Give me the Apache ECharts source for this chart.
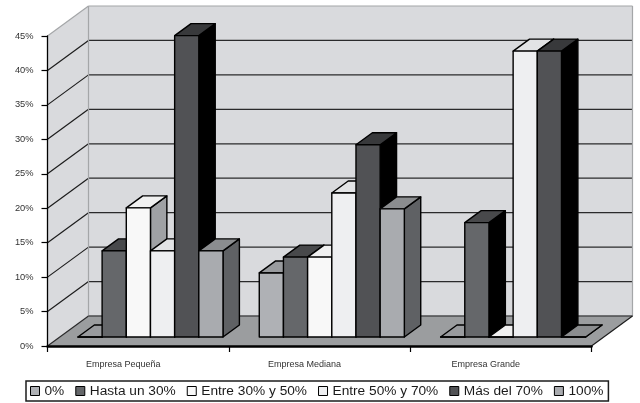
<!DOCTYPE html>
<html>
<head>
<meta charset="utf-8">
<style>html,body{margin:0;padding:0;background:#fff}#chart{width:640px;height:403px}</style>
<script src="https://cdn.jsdelivr.net/npm/echarts@6/dist/echarts.min.js"></script>
</head>
<body>
<div id="chart"></div>
<script>
// Survey shares by company size and band, drawn as a faux-3D clustered column chart.
const categories = ['Empresa Pequeña', 'Empresa Mediana', 'Empresa Grande'];
const seriesNames = ['0%', 'Hasta un 30%', 'Entre 30% y 50%', 'Entre 50% y 70%', 'Más del 70%', '100%'];
const band0 = [0, 9.3, 0];
const bandHasta30 = [12.5, 11.6, 16.6];
const band30to50 = [18.75, 11.6, 0];
const band50to70 = [12.5, 20.9, 41.5];
const bandOver70 = [43.75, 27.9, 41.5];
const band100 = [12.5, 18.6, 0];
const yTicks = [0, 5, 10, 15, 20, 25, 30, 35, 40, 45];

const bands = [band0, bandHasta30, band30to50, band50to70, bandOver70, band100];
const frontColors = ['#afb1b5', '#65676a', '#f8f8f8', '#eeeff1', '#515255', '#a9abaf'];
const topColors = ['#999b9e', '#48494b', '#f0f0f0', '#e2e3e5', '#38393b', '#8b8d8f'];
const sideColors = ['#6b6d70', '#000000', '#9fa1a4', '#9fa1a4', '#000000', '#5f6164'];

// Projection of the box: how far the back plane sits from the front plane.
const DEPTH_X = 41, DEPTH_Y = -30;
const BAR_DEPTH_START = 0.30, BAR_DEPTH_END = 0.70;
const GAP_RATIO = 0.75;

function poly(points, fill, stroke, lineWidth) {
  return {
    type: 'polygon',
    shape: { points: points },
    style: { fill: fill, stroke: stroke || null, lineWidth: lineWidth || 0, lineJoin: 'round' }
  };
}
function line(x1, y1, x2, y2, stroke, lineWidth) {
  return {
    type: 'line',
    shape: { x1: x1, y1: y1, x2: x2, y2: y2 },
    style: { stroke: stroke, lineWidth: lineWidth }
  };
}

// Walls, floor and both sets of gridlines, derived from the grid's own scale.
function renderBox(params, api) {
  const cs = params.coordSys;
  const l = cs.x, r = cs.x + cs.width;
  const y0 = api.coord([0, 0])[1];
  const yMax = api.coord([0, yTicks[yTicks.length - 1]])[1];
  const edge = '#a4a6a8';
  const children = [
    poly([[l, y0], [l + DEPTH_X, y0 + DEPTH_Y], [l + DEPTH_X, yMax + DEPTH_Y], [l, yMax]], '#d9dadd'),
    poly([[l + DEPTH_X, y0 + DEPTH_Y], [r + DEPTH_X, y0 + DEPTH_Y], [r + DEPTH_X, yMax + DEPTH_Y], [l + DEPTH_X, yMax + DEPTH_Y]], '#d9dadd'),
    poly([[l, y0], [r, y0], [r + DEPTH_X, y0 + DEPTH_Y], [l + DEPTH_X, y0 + DEPTH_Y]], '#9b9d9f')
  ];
  yTicks.slice(1, -1).forEach(function (t) {
    const y = api.coord([0, t])[1];
    children.push(line(l, y, l + DEPTH_X, y + DEPTH_Y, '#1c1c1c', 1.2));
    children.push(line(l + DEPTH_X, y + DEPTH_Y, r + DEPTH_X, y + DEPTH_Y, '#2a2a2b', 1.3));
  });
  children.push(line(l, yMax, l + DEPTH_X, yMax + DEPTH_Y, edge, 1.2));
  children.push(line(l + DEPTH_X, yMax + DEPTH_Y, r + DEPTH_X, yMax + DEPTH_Y, edge, 1.2));
  children.push(line(l + DEPTH_X, yMax + DEPTH_Y, l + DEPTH_X, y0 + DEPTH_Y, edge, 1.2));
  children.push(line(r + DEPTH_X, yMax + DEPTH_Y, r + DEPTH_X, y0 + DEPTH_Y, edge, 1.2));
  children.push(line(l, y0, l + DEPTH_X, y0 + DEPTH_Y, '#2a2a2b', 1.2));
  children.push(line(l + DEPTH_X, y0 + DEPTH_Y, r + DEPTH_X, y0 + DEPTH_Y, '#4a4b4d', 1.3));
  children.push(line(r, y0, r + DEPTH_X, y0 + DEPTH_Y, '#1c1c1c', 1.2));
  return { type: 'group', children: children };
}

// One projected column: front face, top and right side, shifted into the box.
function renderBar(bandIndex) {
  return function (params, api) {
    const catW = api.size([1, 0])[0];
    const barW = catW / (bands.length + 2 * GAP_RATIO);
    const base = api.coord([api.value(0), 0]);
    const head = api.coord([api.value(0), api.value(1)]);
    const dx0 = DEPTH_X * BAR_DEPTH_START, dy0 = DEPTH_Y * BAR_DEPTH_START;
    const dx = DEPTH_X * (BAR_DEPTH_END - BAR_DEPTH_START), dy = DEPTH_Y * (BAR_DEPTH_END - BAR_DEPTH_START);
    const x0 = base[0] - catW / 2 + barW * GAP_RATIO + barW * bandIndex + dx0;
    const x1 = x0 + barW;
    const yb = base[1] + dy0, yt = head[1] + dy0;
    const stroke = '#000', lw = 1.4;
    return {
      type: 'group',
      children: [
        poly([[x1, yb], [x1 + dx, yb + dy], [x1 + dx, yt + dy], [x1, yt]], sideColors[bandIndex], stroke, lw),
        poly([[x0, yt], [x1, yt], [x1 + dx, yt + dy], [x0 + dx, yt + dy]], topColors[bandIndex], stroke, lw),
        poly([[x0, yb], [x1, yb], [x1, yt], [x0, yt]], frontColors[bandIndex], stroke, lw)
      ]
    };
  };
}

const barSeries = seriesNames.map(function (name, i) {
  return {
    type: 'custom',
    name: name,
    renderItem: renderBar(i),
    encode: { x: 0, y: 1 },
    itemStyle: { color: frontColors[i] },
    z: 2 + i,
    data: bands[i].map(function (v, c) { return [c, v]; })
  };
});

const chart = echarts.init(document.getElementById('chart'), null, { renderer: 'canvas' });
chart.setOption({
  animation: false,
  backgroundColor: '#ffffff',
  textStyle: { fontFamily: '"Liberation Sans", Arial, sans-serif' },
  grid: { left: 47.5, right: 48.5, top: 36, bottom: 57, containLabel: false },
  legend: {
    data: seriesNames,
    left: 26,
    top: 381,
    icon: 'rect',
    itemWidth: 9,
    itemHeight: 9,
    itemGap: 11,
    padding: [3, 5, 3, 4],
    borderColor: '#1c1c1c',
    borderWidth: 1.5,
    selectedMode: false,
    itemStyle: { borderColor: '#000', borderWidth: 1 },
    textStyle: { fontSize: 13.7, color: '#1a1a1a', fontFamily: '"Liberation Sans", Arial, sans-serif' }
  },
  xAxis: {
    type: 'category',
    data: categories,
    z: 20,
    axisLine: { show: true, lineStyle: { color: '#000', width: 2.5 } },
    axisTick: { show: true, alignWithLabel: false, length: 6, lineStyle: { color: '#000', width: 1.2 } },
    axisLabel: { fontSize: 9, color: '#333', margin: 14, padding: [0, 30, 0, 0] }
  },
  yAxis: {
    type: 'value',
    min: 0,
    max: 45,
    interval: 5,
    z: 20,
    axisLine: { show: true, lineStyle: { color: '#000', width: 1.3 } },
    axisTick: { show: true, length: 6, lineStyle: { color: '#000', width: 1.2 } },
    axisLabel: { fontSize: 9.3, color: '#333', margin: 14, padding: [2, 0, 0, 0], formatter: function (v) { return v + '%'; } },
    splitLine: { show: false }
  },
  series: [{
    type: 'custom',
    name: 'box',
    renderItem: renderBox,
    encode: { x: 0, y: 1 },
    silent: true,
    z: 1,
    data: [[0, 0]]
  }].concat(barSeries)
});
</script>
</body>
</html>
